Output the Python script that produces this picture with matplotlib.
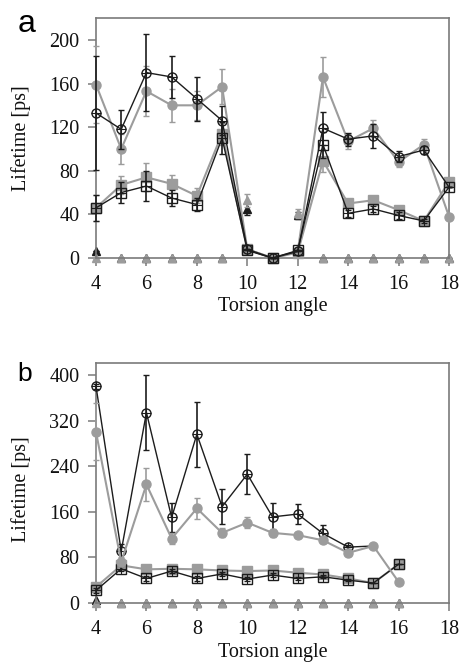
import numpy as np
import matplotlib
matplotlib.use("Agg")
import matplotlib.pyplot as plt

nan = np.nan

# ---------------- data: panel a ----------------
x_a = [4, 5, 6, 7, 8, 9, 10, 11, 12, 13, 14, 15, 16, 17, 18]
a_blk_circ = [133, 118, 170, 166, 146, 126, 8, 0, 6, 119, 109, 112, 93, 99, 65]
a_blk_circ_err = [52, 18, 35, 19, 20, 13, 0, 0, 0, 15, 6, 11, 5, 4, 0]
a_gry_circ = [159, 100, 153, 140, 140, 157, 8, 0, 6, 166, 107, 119, 88, 104, 38]
a_gry_circ_err = [35, 14, 23, 15, 13, 16, 0, 0, 0, 18, 7, 8, 5, 5, 0]
a_blk_sq = [46, 60, 66, 55, 49, 110, 7, 0, 7, 104, 41, 45, 39, 34, 65]
a_blk_sq_err = [12, 10, 14, 7, 6, 15, 0, 0, 0, 12, 3, 3, 3, 2, 0]
a_gry_sq = [46, 67, 74, 68, 57, 114, 8, 0, 5, 89, 50, 53, 44, 34, 70]
a_gry_sq_err = [12, 8, 13, 8, 7, 10, 0, 0, 0, 10, 4, 4, 3, 2, 0]
a_tri_blk = [6, 0, 0, 0, 0, 0, 45, nan, 39, 0, 0, 0, 0, 0, 0]
a_tri_blk_err = [0, 0, 0, 0, 0, 0, 6, 0, 3, 0, 0, 0, 0, 0, 0]
a_tri_gry = [0, 0, 0, 0, 0, 0, 53, nan, 41, 0, 0, 0, 0, 0, 0]
a_tri_gry_err = [0, 0, 0, 0, 0, 0, 6, 0, 4, 0, 0, 0, 0, 0, 0]

# ---------------- data: panel b ----------------
x_b = [4, 5, 6, 7, 8, 9, 10, 11, 12, 13, 14, 15, 16]
b_blk_circ = [380, 91, 334, 150, 296, 169, 226, 151, 156, 122, 98, 100, nan]
b_blk_circ_err = [5, 13, 66, 26, 57, 31, 35, 25, 18, 14, 3, 0, 0]
b_gry_circ = [300, 72, 208, 113, 166, 123, 141, 123, 119, 110, 88, 100, 37]
b_gry_circ_err = [50, 8, 29, 10, 19, 8, 10, 7, 5, 5, 3, 0, 0]
b_blk_sq = [22, 60, 43, 56, 43, 51, 42, 49, 43, 46, 40, 35, 68]
b_blk_sq_err = [4, 4, 5, 4, 4, 3, 3, 3, 3, 3, 2, 0, 0]
b_gry_sq = [28, 66, 59, 60, 59, 57, 56, 57, 53, 50, 43, 35, 68]
b_gry_sq_err = [5, 5, 8, 4, 4, 4, 3, 3, 3, 3, 2, 0, 0]
b_tri_blk = [6, 0, 0, 0, 0, 0, 0, 0, 0, 0, 0, 0, 0]
b_tri_gry = [0, 0, 0, 0, 0, 0, 0, 0, 0, 0, 0, 0, 0]

x_ticks = [4, 6, 8, 10, 12, 14, 16, 18]
a_yticks = [0, 40, 80, 120, 160, 200]
b_yticks = [0, 80, 160, 240, 320, 400]

BLK = "#1c1c1c"
GRY = "#9c9c9c"
SPN = "#7a7a7a"
SERIF = "Liberation Serif"


def series(ax, x, y, err, color, marker, filled, skip=None, z=3):
    x = np.asarray(x, float)
    y = np.asarray(y, float)
    lw = 1.0 if color == BLK else 1.5
    idx = [i for i in range(len(x)) if not (skip and i in skip)]
    ax.errorbar(x, y, yerr=err, fmt="none", ecolor=color, elinewidth=1.2,
                capsize=2.2, capthick=1.0, zorder=z, clip_on=False)
    ax.plot(x, y, color=color, lw=lw, zorder=z, clip_on=False)
    if filled:
        ax.plot(x, y, ls="none", marker=marker, ms=6.5, mfc=color, mec=color,
                markevery=idx, zorder=z + 0.1, clip_on=False)
    else:
        ax.plot(x, y, ls="none", marker=marker, ms=6.5, mfc="none", mec=color,
                mew=1.0, markevery=idx, zorder=z + 0.1, clip_on=False)
        ax.plot(x, y, ls="none", marker="+", ms=6.5, mec=color, mew=0.8,
                markevery=idx, zorder=z + 0.1, clip_on=False)


def triangles(ax, x, y, err, color, z):
    x = np.asarray(x, float)
    y = np.asarray(y, float)
    if err is not None:
        ax.errorbar(x, y, yerr=err, fmt="none", ecolor=color, elinewidth=1.2,
                    capsize=2.2, capthick=1.0, zorder=z, clip_on=False)
    ax.plot(x, y, ls="none", marker="^", ms=6, mfc=color, mec=color,
            zorder=z, clip_on=False)


def style(ax, ylim, yticks):
    ax.set_xlim(4, 18)
    ax.set_ylim(*ylim)
    ax.set_xticks(x_ticks)
    ax.set_yticks(yticks)
    for s in ax.spines.values():
        s.set_color(SPN)
        s.set_linewidth(1.2)
    ax.tick_params(direction="out", length=6, width=1.1, color=SPN,
                   labelsize=14.5, pad=6)
    for lab in ax.get_xticklabels() + ax.get_yticklabels():
        lab.set_fontfamily(SERIF)
        lab.set_color("#111111")


fig = plt.figure(figsize=(4.62, 6.64), dpi=100)
ax_a = fig.add_axes([0.2078, 0.6114, 0.7641, 0.3614])
ax_b = fig.add_axes([0.2078, 0.0919, 0.7641, 0.3614])

# panel a
triangles(ax_a, x_a, a_tri_blk, a_tri_blk_err, BLK, 2)
triangles(ax_a, x_a, a_tri_gry, a_tri_gry_err, GRY, 2.5)
series(ax_a, x_a, a_gry_circ, a_gry_circ_err, GRY, "o", True, z=3)
series(ax_a, x_a, a_gry_sq, a_gry_sq_err, GRY, "s", True, z=3)
series(ax_a, x_a, a_blk_circ, a_blk_circ_err, BLK, "o", False, skip=[14], z=4)
series(ax_a, x_a, a_blk_sq, a_blk_sq_err, BLK, "s", False, z=4)
style(ax_a, (0, 220), a_yticks)

# panel b
triangles(ax_b, x_b, b_tri_blk, None, BLK, 2)
triangles(ax_b, x_b, b_tri_gry, None, GRY, 2.5)
series(ax_b, x_b, b_blk_circ, b_blk_circ_err, BLK, "o", False, skip=[11], z=3)
series(ax_b, x_b, b_blk_sq, b_blk_sq_err, BLK, "s", False, z=3)
series(ax_b, x_b, b_gry_circ, b_gry_circ_err, GRY, "o", True, z=3.5)
series(ax_b, x_b, b_gry_sq, b_gry_sq_err, GRY, "s", True, z=2.8)
style(ax_b, (0, 421), b_yticks)

# labels
fig.text(21 / 462, 1 - 138 / 664, "Lifetime [ps]", rotation=90, ha="center",
         va="center", fontsize=14.5, family=SERIF, color="#111111")
fig.text(21 / 462, 1 - 489 / 664, "Lifetime [ps]", rotation=90, ha="center",
         va="center", fontsize=14.5, family=SERIF, color="#111111")
fig.text(272.5 / 462, 1 - 307 / 664, "Torsion angle", ha="center", va="center",
         fontsize=14.5, family=SERIF, color="#111111")
fig.text(272.5 / 462, 1 - 652 / 664, "Torsion angle", ha="center", va="center",
         fontsize=14.5, family=SERIF, color="#111111")
fig.text(18 / 462, 1 - 32 / 664, "a", ha="left", va="baseline", fontsize=23,
         family="Liberation Sans")
fig.text(17 / 462, 1 - 381 / 664, "b", ha="left", va="baseline", fontsize=19,
         family="Liberation Sans")

fig.savefig("out.png", dpi=100)
